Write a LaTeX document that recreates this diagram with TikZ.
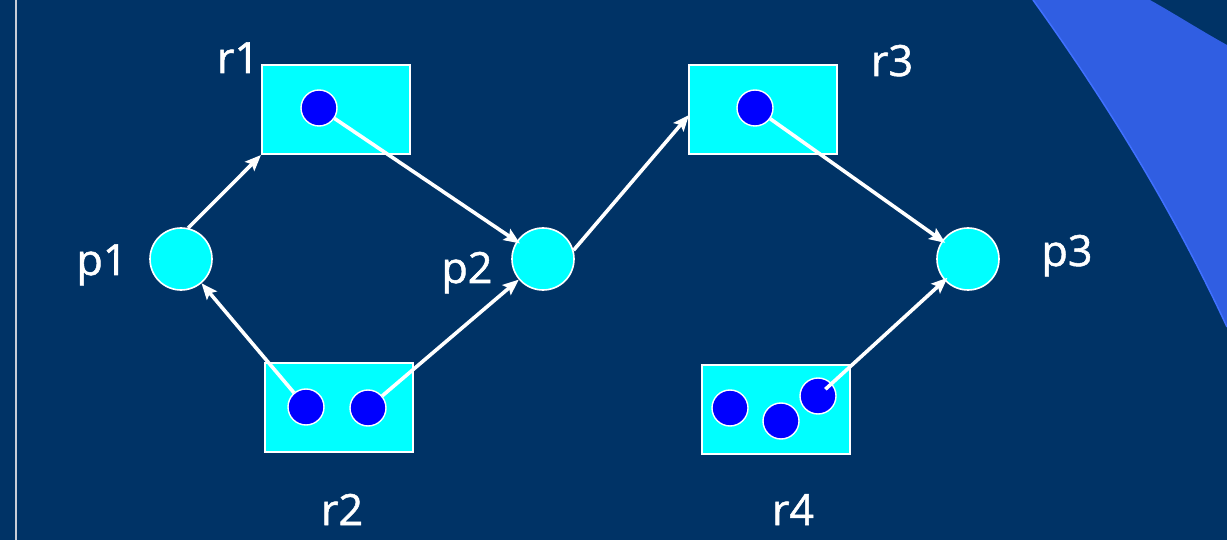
\documentclass[tikz,border=0pt]{standalone}
\usepackage{fontspec}
\setmainfont{Open Sans}
\newfontfamily\lblfont{Open Sans}[FakeBold=1.2]
\usetikzlibrary{arrows.meta}
\definecolor{bg}{RGB}{0,51,102}
\definecolor{band}{RGB}{48,94,226}
\definecolor{bandedge}{RGB}{64,112,255}
\definecolor{cyanfill}{RGB}{0,255,255}
\definecolor{dotblue}{RGB}{0,0,255}
\definecolor{vline}{RGB}{200,205,215}
\begin{document}
\begin{tikzpicture}[x=1pt,y=-1pt,
 res/.style={draw=white,line width=2pt,fill=cyanfill,minimum width=148pt,minimum height=89pt,inner sep=0pt},
 place/.style={circle,draw=white,line width=1.6pt,fill=cyanfill,minimum size=62pt,inner sep=0pt},
 tok/.style={circle,draw=white,line width=1.4pt,fill=dotblue,minimum size=36pt,inner sep=0pt},
 lbl/.style={text=white,font=\lblfont\fontsize{43}{50}\selectfont,anchor=base,inner sep=0pt},
 arc/.style={draw=white,line width=3.6pt,-{Stealth[length=16pt,width=13pt,inset=3pt]}},
 toplace/.style={shorten >=-4pt}]
\fill[bg] (0,0) rectangle (1227,540);
\useasboundingbox (0,0) rectangle (1227,540);
% decorative band
\fill[band] (1033,0) .. controls (1112,110) and (1176,217) .. (1227,327) -- (1227,45) .. controls (1200,30) and (1175,14) .. (1150,0) -- cycle;
\draw[bandedge,line width=1.5pt] (1033,0) .. controls (1112,110) and (1176,217) .. (1227,327);
\draw[vline,line width=1.2pt] (16,0) -- (16,540);
% resources
\node[res] (r1) at (336,109.5) {};
\node[res] (r2) at (338.5,407.5) {};
\node[res] (r3) at (763,109.5) {};
\node[res] (r4) at (776,409.5) {};
% places
\node[place] (p1) at (181,259) {};
\node[place] (p2) at (543,259) {};
\node[place] (p3) at (968,259) {};
% tokens
\node[tok] (t1) at (319,108) {};
\node[tok] (t2) at (306,407) {};
\node[tok] (t3) at (368,408) {};
\node[tok] (t4) at (755,108) {};
\node[tok] (t5) at (730,408) {};
\node[tok] (t6) at (781,421) {};
\node[tok] (t7) at (818,396) {};
% labels
\node[lbl] (l1) at (238,73) {r1};
\node[lbl] (l2) at (342,525) {r2};
\node[lbl] (l3) at (892,76) {r3};
\node[lbl] (l4) at (793,525) {r4};
\node[lbl] (lp1) at (102,275) {p1};
\node[lbl] (lp2) at (467,283) {p2};
\node[lbl] (lp3) at (1067,266) {p3};
% arcs
\draw[arc] (p1.77) -- (r1.south west);
\draw[arc,toplace] (t1) -- (p2);
\draw[arc] (t2) -- (p1);
\draw[arc] (t3) -- (p2);
\coordinate (r3in) at (689,115);
\draw[arc] (p2.16) -- (r3in);
\draw[arc,toplace] (t4) -- (p3);
\draw[arc,shorten <=10pt,toplace] (t7.center) -- (p3);
\end{tikzpicture}
\end{document}
